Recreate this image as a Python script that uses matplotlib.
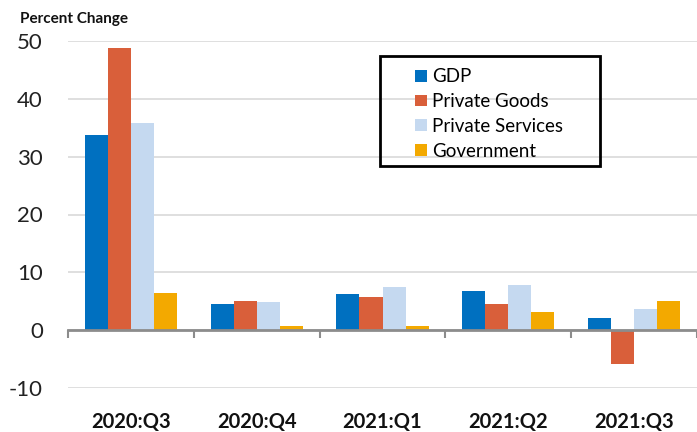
import numpy as np
import matplotlib.pyplot as plt
from matplotlib.patches import Rectangle

# Dane
quarters = ['2020:Q3', '2020:Q4', '2021:Q1', '2021:Q2', '2021:Q3']
gdp = [33.8, 4.5, 6.3, 6.7, 2.1]
private_goods = [48.8, 5.1, 5.7, 4.6, -5.8]
private_services = [35.9, 4.9, 7.4, 7.8, 3.7]
government = [6.4, 0.8, 0.8, 3.2, 5.1]

series = [gdp, private_goods, private_services, government]
names = ['GDP', 'Private Goods', 'Private Services', 'Government']
colors = ['#0070C0', '#D95F3A', '#C5D9F0', '#F3A900']

plt.rcParams['font.family'] = ['Lato', 'DejaVu Sans']
plt.rcParams['axes.unicode_minus'] = False

fig = plt.figure(figsize=(6.97, 4.32), dpi=100)
ax = fig.add_axes([68 / 697, 1 - 388 / 432, 1 - 68 / 697, (388 - 41) / 432])

x = np.arange(len(quarters))
width = 0.183
for i, (vals, name, col) in enumerate(zip(series, names, colors)):
    ax.bar(x + (i - 1.5) * width, vals, width, color=col, label=name, zorder=3)

ax.set_xlim(-0.5, len(quarters) - 0.5)
ax.set_ylim(-10, 50)
ax.set_yticks(np.arange(-10, 51, 10))
ax.grid(axis='y', color='#d9d9d9', linewidth=1.2, zorder=0)

for s in ['top', 'right', 'left']:
    ax.spines[s].set_visible(False)
ax.spines['bottom'].set_position(('data', 0))
ax.spines['bottom'].set_color('#8c8c8c')
ax.spines['bottom'].set_linewidth(2)
ax.spines['bottom'].set_zorder(4)

ax.set_xticks(x)
ax.set_xticklabels(quarters, fontsize=14.5, fontweight='bold', color='#111111')
ax.set_xticks(np.arange(-0.5, len(quarters), 1), minor=True)
ax.tick_params(axis='x', which='major', length=0, pad=59)
ax.tick_params(axis='x', which='minor', length=6, width=1.5, color='#8c8c8c', direction='out')
ax.tick_params(axis='y', length=0, pad=18, labelsize=16, labelcolor='#222222')

fig.text(20 / 697, 1 - 19 / 432, 'Percent Change', fontsize=11, fontweight='bold',
         va='center', ha='left', color='#111111')

# Legenda
leg = ax.legend(loc='upper left', bbox_to_anchor=(404 / 697, 1 - 57 / 432),
                bbox_transform=fig.transFigure, frameon=False, fontsize=13.5,
                handlelength=0.6, handleheight=0.6, handletextpad=0.3,
                labelspacing=0.42, borderpad=0.1)
box = Rectangle((380 / 697, 1 - 166 / 432), 220 / 697, 110 / 432, transform=fig.transFigure,
                fill=False, edgecolor='black', linewidth=2)
fig.patches.append(box)

plt.savefig('out.png', dpi=100)
